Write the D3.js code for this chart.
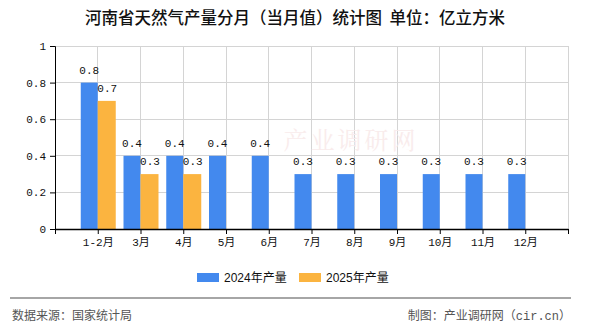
<!DOCTYPE html>
<html><head><meta charset="utf-8">
<script src="https://cdn.jsdelivr.net/npm/d3@7"></script>
<style>
html,body{margin:0;padding:0;background:#fff;}
svg{display:block;}
</style>
</head><body>
<svg id="c" width="590" height="330"></svg>
<script>
const categories = ["1-2月","3月","4月","5月","6月","7月","8月","9月","10月","11月","12月"];
const series2024 = [0.8,0.4,0.4,0.4,0.4,0.3,0.3,0.3,0.3,0.3,0.3];
const series2025 = [0.7,0.3,0.3];
const yTicks = [0,0.2,0.4,0.6,0.8,1];
const seriesNames = ["2024年产量","2025年产量"];
const colors = ["#4389ee","#fbb440"];
const titleText = "河南省天然气产量分月（当月值）统计图  单位：亿立方米";
const sourceText = "数据来源：国家统计局";
const creditText = "制图：产业调研网（cir.cn）";

const svg = d3.select("#c");
const monoFont = "'Liberation Mono','DejaVu Sans Mono','Noto Sans CJK SC',monospace";
const cjkFont = "'Noto Sans CJK SC','Liberation Sans',sans-serif";

const x = d3.scaleLinear().domain([0, categories.length + 1]).range([55, 568]);
const y = d3.scaleLinear().domain([0, 1]).range([229, 46]);
const barW = 17;

// title
svg.append("text").attr("x", 295).attr("y", 24).attr("text-anchor","middle")
  .attr("font-family", cjkFont).attr("font-size", 16.5).attr("font-weight", 500)
  .attr("fill","#111").attr("xml:space","preserve").style("white-space","pre").text(titleText);

// grid
const g = svg.append("g");
g.selectAll(".hg").data(yTicks.filter(d=>d>0)).join("line")
  .attr("x1", x(0)).attr("x2", x(categories.length+1))
  .attr("y1", d=>y(d)).attr("y2", d=>y(d))
  .attr("stroke","#d4d4d4").attr("stroke-width",1).attr("shape-rendering","crispEdges");
g.selectAll(".vg").data(d3.range(1, categories.length+2)).join("line")
  .attr("x1", d=>x(d)).attr("x2", d=>x(d))
  .attr("y1", y(1)).attr("y2", y(0))
  .attr("stroke","#d4d4d4").attr("stroke-width",1).attr("shape-rendering","crispEdges");

// watermark
svg.append("text").attr("x", 351).attr("y", 149).attr("text-anchor","middle")
  .attr("font-family","'Noto Serif CJK SC','Noto Sans CJK SC',serif").attr("font-size", 24)
  .attr("fill","#f9ecec").attr("letter-spacing", 3).text("产业调研网");

// bars
const bars = svg.append("g");
bars.selectAll(".b24").data(series2024).join("rect")
  .attr("x", (d,i)=>x(i+1)-barW).attr("width", barW)
  .attr("y", d=>y(d)).attr("height", d=>y(0)-y(d)).attr("fill", colors[0]);
bars.selectAll(".b25").data(series2025).join("rect")
  .attr("x", (d,i)=>x(i+1)).attr("width", barW+1)
  .attr("y", d=>y(d)).attr("height", d=>y(0)-y(d)).attr("fill", colors[1]);

// value labels
const lab = svg.append("g").attr("font-family", monoFont).attr("font-size", 11).attr("fill","#111");
lab.selectAll(".l24").data(series2024).join("text")
  .attr("x", (d,i)=>x(i+1)-barW/2).attr("y", d=>y(d)-9).attr("text-anchor","middle")
  .text(d=>d3.format(".1f")(d));
lab.selectAll(".l25").data(series2025).join("text")
  .attr("x", (d,i)=>x(i+1)+barW/2+1).attr("y", d=>y(d)-9).attr("text-anchor","middle")
  .text(d=>d3.format(".1f")(d));

// y axis
const yAxis = d3.axisLeft(y).tickValues(yTicks).tickSize(5).tickPadding(4)
  .tickFormat(d=>d===0||d===1 ? String(d) : d3.format(".1f")(d));
const ya = svg.append("g").attr("transform","translate(55,0)").call(yAxis);
ya.select(".domain").attr("stroke","#000");
ya.selectAll(".tick line").attr("stroke","#000");
ya.selectAll("text").attr("font-family", monoFont).attr("font-size", 11).attr("fill","#111");

// x axis
const xAxis = d3.axisBottom(x).tickValues(d3.range(0, categories.length+2)).tickSize(5).tickSizeOuter(0).tickPadding(4)
  .tickFormat(d=> (d>=1 && d<=categories.length) ? categories[d-1] : "");
const xa = svg.append("g").attr("transform","translate(0,229)").call(xAxis);
xa.select(".domain").attr("stroke","#000").attr("stroke-width",1.5);
xa.selectAll(".tick line").attr("stroke","#000");
xa.selectAll("text").attr("font-family", monoFont).attr("font-size", 11).attr("fill","#111");

// legend
const legX = [197, 299];
const leg = svg.append("g");
seriesNames.forEach((n,i)=>{
  leg.append("rect").attr("x", legX[i]).attr("y", 273).attr("width", 22).attr("height", 9).attr("fill", colors[i]);
  leg.append("text").attr("x", legX[i]+27).attr("y", 282).attr("font-family", "'Liberation Sans','Noto Sans CJK SC',sans-serif")
    .attr("font-size", 12).attr("fill","#111").text(n);
});

// separator
svg.append("line").attr("x1",10).attr("x2",571).attr("y1",298).attr("y2",298)
  .attr("stroke","#888").attr("stroke-width",1.5);

// footer
svg.append("text").attr("x", 12).attr("y", 320).attr("font-family", cjkFont).attr("font-size", 12)
  .attr("fill","#555").text(sourceText);
svg.append("text").attr("x", 571).attr("y", 320).attr("text-anchor","end").attr("font-family", monoFont).attr("font-size", 12)
  .attr("fill","#555").text(creditText);
</script>
</body></html>
